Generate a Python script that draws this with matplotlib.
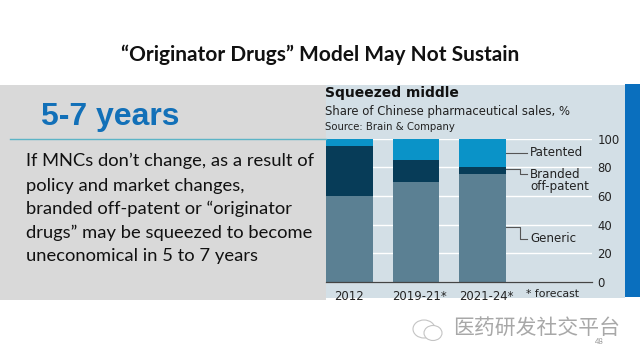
import numpy as np
import matplotlib
matplotlib.use("Agg")
import matplotlib.pyplot as plt
from matplotlib.patches import Rectangle, Ellipse
from matplotlib.transforms import ScaledTranslation

categories = ["2012", "2019-21*", "2021-24*"]
generic = [60, 70, 75]
branded = [35, 15, 5]
patented = [5, 15, 20]
y_ticks = [0, 20, 40, 60, 80, 100]

title = "\u201cOriginator Drugs\u201d Model May Not Sustain"
headline = "5-7 years"
body_lines = [
    "If MNCs don\u2019t change, as a result of",
    "policy and market changes,",
    "branded off-patent or \u201coriginator",
    "drugs\u201d may be squeezed to become",
    "uneconomical in 5 to 7 years",
]
body_y = [161, 186, 209, 233, 256]

W, H = 640, 360
CHART_FONT = "DejaVu Sans"


def fx(px):
    return px / W


def fy(py):
    return 1 - py / H


def box(fig, x0, y0, x1, y1, color, z=0):
    fig.add_artist(Rectangle((fx(x0), fy(y1)), (x1 - x0) / W, (y1 - y0) / H,
                             transform=fig.transFigure, facecolor=color,
                             edgecolor="none", zorder=z))


def bubble(fig, cx, cy, w, h):
    fig.add_artist(Ellipse((fx(cx), fy(cy)), w / W, h / H, transform=fig.transFigure,
                           facecolor="white", edgecolor="#c4c4c4", lw=0.8))


fig = plt.figure(figsize=(6.4, 3.6), dpi=100, facecolor="white")

# slide background pieces
box(fig, 0, 85, 326, 300, "#d9d9d9")
box(fig, 326, 85, 625, 298, "#d3dfe6")
box(fig, 625, 84, 640, 297, "#0a6fbe")
fig.add_artist(plt.Line2D([fx(10), fx(326)], [fy(139), fy(139)], color="#5cb4c6", lw=1.0))

fig.text(fx(320), fy(55), title, ha="center", va="center", family="Lato",
         weight="bold", fontsize=15, color="#111111")
fig.text(fx(41), fy(116.5), headline, ha="left", va="center", family="Liberation Sans",
         weight="bold", fontsize=23, color="#1270b8")
for line, py in zip(body_lines, body_y):
    fig.text(fx(26), fy(py), line, ha="left", va="center", family="Lato",
             fontsize=13.2, color="#111111")

# chart
ax = fig.add_axes([fx(326), fy(281.7), 266 / W, 143 / H])
ax.patch.set_alpha(0)
x = np.arange(len(categories))
ax.bar(x, generic, width=0.7, color="#5b8093", zorder=3)
ax.bar(x, branded, width=0.7, bottom=generic, color="#073c58", zorder=3)
ax.bar(x, patented, width=0.7, bottom=np.add(generic, branded), color="#0a93c8", zorder=3)

ax.set_xlim(-0.35, 3.65)
ax.set_ylim(0, 100)
ax.set_yticks(y_ticks)
ax.yaxis.tick_right()
ax.tick_params(axis="y", length=0, pad=4, labelsize=8.4, labelcolor="#222222")
ax.set_xticks(x, categories)
ax.tick_params(axis="x", length=0, pad=6, labelsize=8.4, labelcolor="#222222")
for lab in ax.get_xticklabels() + ax.get_yticklabels():
    lab.set_family(CHART_FONT)
# the starred labels sit a little right of their bars
for lab in ax.get_xticklabels()[1:]:
    lab.set_transform(lab.get_transform() + ScaledTranslation(4 / 100, 0, fig.dpi_scale_trans))
ax.grid(axis="y", color="white", lw=1.0, zorder=1)
ax.set_axisbelow(True)
for name in ["top", "left", "right"]:
    ax.spines[name].set_visible(False)
ax.spines["bottom"].set_color("#444444")
ax.spines["bottom"].set_linewidth(0.9)
ax.spines["bottom"].set_zorder(4)

# leader lines and series labels
lead = "#555555"
ax.plot([2.35, 2.68], [90, 90], color=lead, lw=0.8, zorder=4)
ax.plot([2.35, 2.56, 2.56, 2.68], [78.5, 78.5, 75, 75], color=lead, lw=0.8, zorder=4)
ax.plot([2.35, 2.56, 2.56, 2.68], [38, 38, 30, 30], color=lead, lw=0.8, zorder=4)
label_kw = dict(ha="left", va="center", family=CHART_FONT, fontsize=8.6, color="#222222", zorder=5)
ax.text(2.72, 90, "Patented", **label_kw)
ax.text(2.72, 75, "Branded", **label_kw)
ax.text(2.72, 66.5, "off-patent", **label_kw)
ax.text(2.72, 30, "Generic", **label_kw)
ax.text(2.65, -8.5, "* forecast", ha="left", va="center", family=CHART_FONT, fontsize=7.8, color="#222222")

# chart heading
fig.text(fx(325), fy(93), "Squeezed middle", ha="left", va="center", family=CHART_FONT,
         weight="bold", fontsize=10, color="#111111")
fig.text(fx(325), fy(111), "Share of Chinese pharmaceutical sales, %", ha="left", va="center",
         family=CHART_FONT, fontsize=8.4, color="#222222")
fig.text(fx(325), fy(127), "Source: Brain & Company", ha="left", va="center",
         family=CHART_FONT, fontsize=7.3, color="#222222")

# watermark and page number
bubble(fig, 424, 329, 22, 18)
bubble(fig, 433, 333, 18, 15)
fig.text(fx(453), fy(328), "\u533b\u836f\u7814\u53d1\u793e\u4ea4\u5e73\u53f0", ha="left", va="center",
         family=["Noto Sans CJK SC", "DejaVu Sans"], fontsize=15, color="#a8a8a8")
fig.text(fx(599), fy(342), "48", ha="center", va="center", family="Lato", fontsize=5.5, color="#999999")

fig.savefig("out.png", dpi=100)
